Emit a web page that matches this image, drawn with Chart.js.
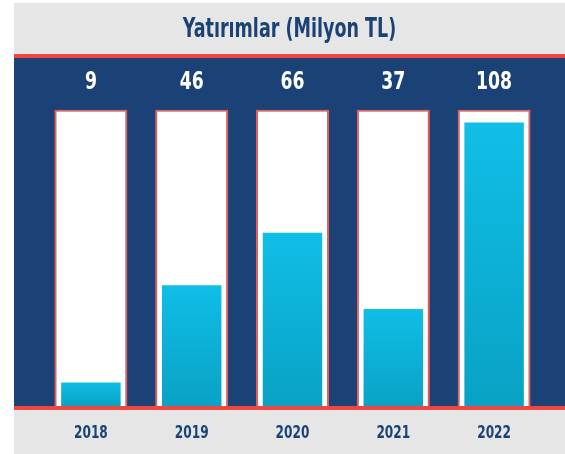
<!DOCTYPE html>
<html>
<head>
<meta charset="utf-8">
<script src="https://cdn.jsdelivr.net/npm/chart.js@4/dist/chart.umd.min.js"></script>
<style>
  html, body { margin: 0; padding: 0; background: #ffffff; }
  #wrap { position: relative; width: 565px; height: 454px; }
</style>
</head>
<body>
<div id="wrap"><canvas id="c" width="565" height="454"></canvas></div>
<script>
// ---- data ----
const title = 'Yatırımlar (Milyon TL)';
const years = ['2018', '2019', '2020', '2021', '2022'];
const investments = [9, 46, 66, 37, 108];
const axisMax = 113; // top of the white frames

const NAVY = '#1b4276';
const RED = '#f0463f';
const GRAY = '#e6e6e6';
const FONT = '"Liberation Sans Narrow", "DejaVu Sans Condensed", "Liberation Sans", sans-serif';

function condensedText(ctx, text, x, y, font, color, squeeze) {
  ctx.save();
  ctx.font = font;
  ctx.fillStyle = color;
  ctx.textAlign = 'center';
  ctx.textBaseline = 'middle';
  ctx.translate(x, y);
  ctx.scale(squeeze, 1);
  ctx.fillText(text, 0, 0);
  ctx.restore();
}

const framePlugin = {
  id: 'frame',
  beforeDraw(chart) {
    const ctx = chart.ctx;
    const area = chart.chartArea;
    const L = 14, R = 565;
    ctx.save();
    ctx.fillStyle = GRAY;
    ctx.fillRect(L, 3, R - L, 51);
    ctx.fillStyle = RED;
    ctx.fillRect(L, 54, R - L, 4);
    ctx.fillStyle = NAVY;
    ctx.fillRect(L, 58, R - L, area.bottom - 58);
    ctx.fillStyle = RED;
    ctx.fillRect(L, area.bottom, R - L, 4);
    ctx.fillStyle = GRAY;
    ctx.fillRect(L, area.bottom + 4, R - L, 454 - area.bottom - 4);
    ctx.restore();
    condensedText(ctx, title, (L + R) / 2, 30, 'bold 26px ' + FONT, NAVY, 0.75);
  },
  afterDatasetsDraw(chart) {
    const ctx = chart.ctx;
    const x = chart.scales.x;
    const area = chart.chartArea;
    investments.forEach((v, i) => {
      condensedText(ctx, String(v), x.getPixelForValue(i), 83, 'bold 24px ' + FONT, '#ffffff', 0.8);
    });
    years.forEach((yr, i) => {
      condensedText(ctx, yr, x.getPixelForValue(i), area.bottom + 27, 'bold 18px ' + FONT, NAVY, 0.75);
    });
  }
};

function barGradient(context) {
  const chart = context.chart;
  const area = chart.chartArea;
  if (!area) return '#0fbde6';
  const y = chart.scales.y;
  const v = context.raw;
  const top = y.getPixelForValue(v);
  const bottom = y.getPixelForValue(0);
  if (!isFinite(top) || bottom - top < 1) return '#0fbde6';
  const g = chart.ctx.createLinearGradient(0, top, 0, bottom);
  g.addColorStop(0, '#10bee7');
  g.addColorStop(1, '#09a2c4');
  return g;
}

new Chart(document.getElementById('c'), {
  type: 'bar',
  data: {
    labels: years,
    datasets: [
      {
        label: 'value',
        data: investments,
        backgroundColor: barGradient,
        borderWidth: 0,
        barPercentage: 0.59,
        categoryPercentage: 1,
        grouped: false,
        order: 1
      },
      {
        label: 'frame',
        data: years.map(() => axisMax),
        backgroundColor: '#ffffff',
        borderColor: '#f05a55',
        borderWidth: 2,
        barPercentage: 0.725,
        categoryPercentage: 1,
        grouped: false,
        order: 2
      }
    ]
  },
  options: {
    responsive: false,
    animation: false,
    devicePixelRatio: 1,
    layout: { padding: { left: 40.5, right: 20.5, top: 109.5, bottom: 48 } },
    plugins: {
      legend: { display: false },
      tooltip: { enabled: false },
      title: { display: false }
    },
    scales: {
      x: { display: false },
      y: { display: false, min: 0, max: axisMax }
    }
  },
  plugins: [framePlugin]
});
</script>
</body>
</html>
